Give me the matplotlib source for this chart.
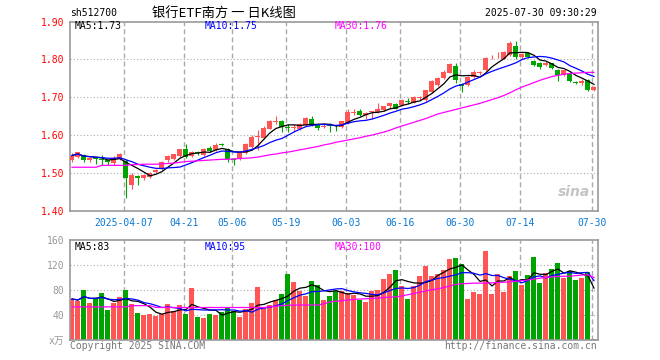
import numpy as np
import pandas as pd
import matplotlib
matplotlib.use('Agg')
import matplotlib.pyplot as plt

# daily candles, 2025-03-24 .. 2025-07-30
opens = [1.533, 1.543, 1.548, 1.535, 1.540, 1.538, 1.533, 1.526, 1.537, 1.532,
         1.468, 1.493, 1.486, 1.490, 1.503, 1.510, 1.535, 1.537, 1.545, 1.563,
         1.545, 1.554, 1.548, 1.567, 1.561, 1.576, 1.563, 1.537, 1.536, 1.552,
         1.568, 1.596, 1.592, 1.617, 1.634, 1.638, 1.622, 1.618, 1.616, 1.627,
         1.643, 1.630, 1.621, 1.627, 1.625, 1.621, 1.632, 1.658, 1.665, 1.654,
         1.660, 1.661, 1.667, 1.677, 1.683, 1.680, 1.690, 1.686, 1.697, 1.693,
         1.715, 1.733, 1.751, 1.765, 1.783, 1.735, 1.733, 1.755, 1.764, 1.773,
         1.808, 1.808, 1.801, 1.812, 1.836, 1.806, 1.817, 1.797, 1.790, 1.786,
         1.790, 1.773, 1.760, 1.764, 1.740, 1.739, 1.746, 1.720]
highs = [1.552, 1.556, 1.550, 1.542, 1.543, 1.548, 1.535, 1.545, 1.553, 1.536,
         1.499, 1.495, 1.498, 1.503, 1.510, 1.532, 1.548, 1.551, 1.564, 1.577,
         1.557, 1.558, 1.565, 1.572, 1.578, 1.580, 1.566, 1.540, 1.558, 1.579,
         1.599, 1.614, 1.623, 1.641, 1.651, 1.640, 1.630, 1.629, 1.632, 1.647,
         1.651, 1.633, 1.629, 1.631, 1.628, 1.638, 1.668, 1.668, 1.668, 1.661,
         1.664, 1.686, 1.678, 1.686, 1.686, 1.696, 1.697, 1.704, 1.703, 1.720,
         1.747, 1.753, 1.772, 1.792, 1.790, 1.737, 1.757, 1.772, 1.770, 1.806,
         1.813, 1.819, 1.823, 1.848, 1.850, 1.818, 1.820, 1.799, 1.793, 1.795,
         1.792, 1.775, 1.773, 1.766, 1.743, 1.748, 1.749, 1.730]
lows = [1.528, 1.540, 1.530, 1.528, 1.523, 1.520, 1.521, 1.521, 1.534, 1.434,
        1.457, 1.468, 1.481, 1.486, 1.500, 1.507, 1.530, 1.534, 1.543, 1.540,
        1.542, 1.548, 1.545, 1.556, 1.559, 1.570, 1.528, 1.522, 1.534, 1.550,
        1.566, 1.561, 1.590, 1.615, 1.630, 1.609, 1.608, 1.611, 1.614, 1.625,
        1.625, 1.613, 1.618, 1.609, 1.612, 1.619, 1.630, 1.653, 1.650, 1.642,
        1.642, 1.658, 1.665, 1.668, 1.668, 1.677, 1.683, 1.684, 1.693, 1.690,
        1.712, 1.731, 1.748, 1.763, 1.738, 1.713, 1.730, 1.752, 1.760, 1.770,
        1.800, 1.803, 1.800, 1.810, 1.800, 1.800, 1.803, 1.784, 1.776, 1.783,
        1.774, 1.742, 1.757, 1.740, 1.735, 1.733, 1.717, 1.716]
closes = [1.546, 1.554, 1.533, 1.539, 1.536, 1.535, 1.528, 1.540, 1.550, 1.486,
          1.495, 1.486, 1.494, 1.500, 1.507, 1.530, 1.545, 1.549, 1.563, 1.543,
          1.555, 1.553, 1.562, 1.559, 1.575, 1.575, 1.536, 1.534, 1.556, 1.577,
          1.596, 1.598, 1.620, 1.638, 1.636, 1.621, 1.620, 1.620, 1.630, 1.645,
          1.627, 1.620, 1.625, 1.625, 1.623, 1.636, 1.662, 1.662, 1.652, 1.658,
          1.662, 1.668, 1.676, 1.684, 1.670, 1.693, 1.688, 1.702, 1.700, 1.718,
          1.744, 1.751, 1.768, 1.789, 1.745, 1.731, 1.755, 1.768, 1.766, 1.804,
          1.810, 1.810, 1.821, 1.843, 1.806, 1.815, 1.806, 1.786, 1.780, 1.792,
          1.777, 1.760, 1.771, 1.742, 1.739, 1.742, 1.720, 1.728]
# MA30 of price as drawn (needs history before the window)
ma30 = [1.515] * 5 + [1.520] * 5 + [1.522, 1.522, 1.523, 1.523, 1.523] + \
       [1.524, 1.525, 1.526, 1.528] + \
       [1.530, 1.531, 1.532, 1.533, 1.534, 1.535, 1.536] + \
       [1.536, 1.537, 1.538, 1.539, 1.540, 1.542] + \
       [1.545, 1.548, 1.550, 1.553, 1.555, 1.558] + \
       [1.561, 1.564, 1.567, 1.570, 1.574] + \
       [1.577, 1.581, 1.584, 1.587, 1.590, 1.593] + \
       [1.597, 1.600, 1.604, 1.608, 1.613, 1.619] + \
       [1.624, 1.629, 1.634, 1.639, 1.644, 1.650, 1.656] + \
       [1.660, 1.664, 1.668, 1.672, 1.676, 1.680] + \
       [1.684, 1.689, 1.694, 1.699, 1.705, 1.712, 1.720] + \
       [1.727, 1.733, 1.739, 1.745, 1.750, 1.755] + \
       [1.758, 1.761, 1.763, 1.764, 1.765, 1.766, 1.766]

# volume (x万手)
volumes = [65.6, 62.4, 80, 58.7, 66.7, 75.7, 48, 58.7, 68.8, 80,
           57.6, 43.7, 40, 42, 38.9, 42, 57.6, 46.4, 56, 42,
           83.2, 36.8, 35, 42, 40.5, 45.3, 52.3, 47, 37.3, 50,
           59.7, 84.8, 53.3, 55.5, 64, 73.6, 105.6, 92.8, 78.9, 70.4,
           94.4, 87.5, 64, 70.4, 78.9, 78.9, 74.7, 72, 64, 60.8,
           78.9, 80, 98, 105.6, 112, 86.9, 65.6, 86.9, 102.9, 118.9,
           102.9, 105.6, 112, 129.6, 131.2, 121.6, 65.6, 76.8, 73.6, 142.4,
           73.6, 105.6, 76.8, 102.4, 110.4, 88, 104, 132.8, 91.2, 107.2,
           113.6, 123.2, 99.2, 110.4, 96, 99.2, 108.8, 1]
vol_ma30 = [53] * 10 + [55] * 4 + [52] * 19 + \
           [53, 54, 55, 55.5, 56, 56, 56, 56, 56] + \
           [58, 61, 62, 63, 64, 65, 65.5] + \
           [66, 66.5, 67, 68, 68.5, 69, 70.5, 72.5, 74.5, 76.5, 78.5, 80.5,
            82, 84, 86.5, 89, 90] + \
           [90.5, 91, 91, 91, 91.5, 92, 92.5, 93, 94, 95] + \
           [96, 97.5, 99, 100, 101, 101.5, 102, 102, 103, 104, 104, 100]

tick_idx = [9, 19, 27, 36, 46, 55, 65, 75, 87]
tick_labels = ['2025-04-07', '04-21', '05-06', '05-19', '06-03',
               '06-16', '06-30', '07-14', '07-30']

RED = '#ff5555'
GREEN = '#00a400'
GRID = '#aaaaaa'
MONO = ['DejaVu Sans Mono', 'Noto Sans CJK SC']

df = pd.DataFrame({'open': opens, 'high': highs, 'low': lows, 'close': closes,
                   'vol': volumes})
df['ma5'] = df['close'].rolling(5, min_periods=1).mean()
df['ma10'] = df['close'].rolling(10, min_periods=1).mean()
df['vma5'] = df['vol'].rolling(5, min_periods=1).mean()
df['vma10'] = df['vol'].rolling(10, min_periods=1).mean()
x = np.arange(len(df))
cols = [RED if c >= o else GREEN for o, c in zip(df['open'], df['close'])]

W, H = 660, 360
fig = plt.figure(figsize=(6.6, 3.6), dpi=100)
ax1 = fig.add_axes([70 / W, 1 - 210.7 / H, 527.7 / W, 189 / H])
ax2 = fig.add_axes([70 / W, 1 - 340 / H, 527.7 / W, 100 / H])

for ax in (ax1, ax2):
    ax.set_xlim(-0.33, 87.62)
    for s in ax.spines.values():
        s.set_color('#999999')
        s.set_linewidth(1.2)
    for t in tick_idx:
        ax.axvline(t - 0.3, color=GRID, lw=1, ls=(0, (3.6, 2.2)), zorder=0)
    ax.tick_params(length=0)

# price panel
for y in [1.5, 1.6, 1.7, 1.8]:
    ax1.axhline(y, color=GRID, lw=0.8, ls=(0, (1, 2)), zorder=0)
body = (df['close'] - df['open']).abs().clip(lower=0.0025)
ax1.vlines(x, df['low'], df['high'], colors=cols, lw=0.8, zorder=2)
ax1.bar(x, body, bottom=df[['open', 'close']].min(axis=1), width=0.83,
        color=cols, zorder=3)
ax1.plot(x, df['ma5'], color='black', lw=0.9, zorder=4)
ax1.plot(x, df['ma10'], color='#0000ff', lw=0.9, zorder=4)
ax1.plot(x, ma30, color='#ff00ff', lw=0.9, zorder=4)
ax1.set_ylim(1.40, 1.90)
ax1.set_yticks([1.4, 1.5, 1.6, 1.7, 1.8, 1.9])
ax1.set_yticklabels(['1.40', '1.50', '1.60', '1.70', '1.80', '1.90'],
                    color='#ff0000', family=MONO, fontsize=7)
ax1.set_xticks([t - 0.3 for t in tick_idx])
ax1.set_xticklabels(tick_labels, color='#0a78d2', family=MONO, fontsize=7)
ax1.tick_params(axis='y', pad=4)
ax1.tick_params(axis='x', pad=5)
ax1.text(0.985, 0.1, 'sina', transform=ax1.transAxes, ha='right', va='center',
         fontsize=10, fontstyle='italic', fontweight='bold', color='#c4c4c4')

# volume panel
for y in [40, 80, 120]:
    ax2.axhline(y, color=GRID, lw=0.8, ls=(0, (1, 2)), zorder=0)
ax2.bar(x, df['vol'], width=0.83, color=cols, zorder=2)
ax2.plot(x, df['vma5'], color='black', lw=0.9, zorder=3)
ax2.plot(x, df['vma10'], color='#0000ff', lw=0.9, zorder=3)
ax2.plot(x, vol_ma30, color='#ff00ff', lw=0.9, zorder=3)
ax2.set_ylim(0, 160)
ax2.set_yticks([0, 40, 80, 120, 160])
ax2.set_yticklabels(['x万', '40', '80', '120', '160'], color='#999999',
                    family=MONO, fontsize=7)
ax2.set_xticks([])
ax2.tick_params(axis='y', pad=4)

# header and legends
fig.text(70 / W, 1 - 13 / H, 'sh512700', family=MONO, fontsize=7,
         va='center', ha='left')
fig.text(223.5 / W, 1 - 13 / H, '银行ETF南方 一 日K线图',
         family=['Noto Sans CJK SC', 'DejaVu Sans'], fontsize=9.5,
         va='center', ha='center')
fig.text(596.7 / W, 1 - 13 / H, '2025-07-30 09:30:29', family=MONO,
         fontsize=7, va='center', ha='right')
for txt, c, px in [('MA5:1.73', 'black', 75), ('MA10:1.75', '#0000ff', 205),
                   ('MA30:1.76', '#ff00ff', 335)]:
    fig.text(px / W, 1 - 26 / H, txt, color=c, family=MONO, fontsize=7,
             va='center', ha='left')
for txt, c, px in [('MA5:83', 'black', 75), ('MA10:95', '#0000ff', 205),
                   ('MA30:100', '#ff00ff', 335)]:
    fig.text(px / W, 1 - 246.7 / H, txt, color=c, family=MONO, fontsize=7,
             va='center', ha='left')
fig.text(70 / W, 1 - 346 / H, 'Copyright 2025 SINA.COM', color='#777777',
         family=MONO, fontsize=7, va='center', ha='left')
fig.text(597 / W, 1 - 346 / H, 'http://finance.sina.com.cn', color='#777777',
         family=MONO, fontsize=7, va='center', ha='right')

fig.savefig('out.png', dpi=100, facecolor='white')
